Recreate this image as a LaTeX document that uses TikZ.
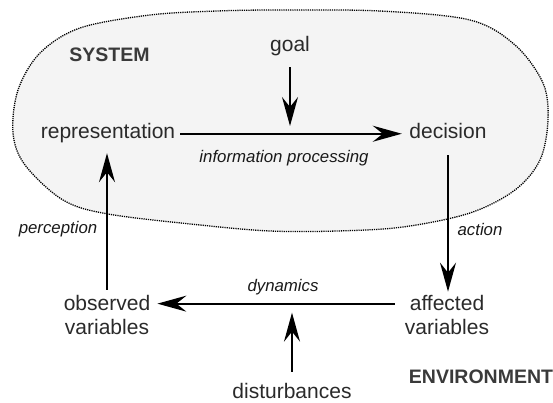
\documentclass[tikz,border=0pt]{standalone}
\usepackage{fontspec}
\setmainfont{Liberation Sans}
\usetikzlibrary{arrows.meta}
\definecolor{textgray}{HTML}{2A2A2A}
\definecolor{titlegray}{HTML}{3A3A3A}
\definecolor{blobfill}{HTML}{F4F4F4}
\tikzset{
  txt/.style={font=\fontsize{21}{24.5}\selectfont, text=textgray, inner sep=0pt, anchor=base, text height=15pt, text depth=4.5pt},
  txttwo/.style={font=\fontsize{21}{24.5}\selectfont, text=textgray, inner sep=0pt, anchor=base},
  lbl/.style={font=\fontsize{16.8}{20}\selectfont\itshape, text=black!90, inner sep=0pt, anchor=base},
  ttl/.style={font=\fontsize{19.5}{24}\selectfont\bfseries, text=titlegray, inner sep=0pt, anchor=base},
  arr/.style={draw=black, line width=1.7pt, -{Stealth[length=29pt, width=16pt, inset=10pt]}},
  blob/.style={draw=black, fill=blobfill, line width=1.3pt, dash pattern=on 1.2pt off 1pt},
}
\newcommand{\twolines}[2]{{\tabcolsep=0pt\begin{tabular}[t]{@{}c@{}}#1\\#2\end{tabular}}}
\begin{document}
\begin{tikzpicture}[x=1pt, y=-1pt]
  \useasboundingbox (0,0) rectangle (553,403);
  % system outline
  \draw[blob] plot[smooth cycle, tension=0.55] coordinates {
    (280,10) (380,11) (470,20) (515,45) (543,83) (548,120) (540,160) (515,190)
    (470,213) (403,227) (337,231) (270,231) (200,225) (108,214) (63,200)
    (25,165) (13,133) (18,90) (40,53) (80,28) (150,15) (217,11)};

  % titles
  \node[ttl] (sys) at (109.5,62) {SYSTEM};
  \node[ttl] (env) at (481,383) {ENVIRONMENT};

  % main nodes
  \node[txt] (goal) at (290,52) {goal};
  \node[txt] (rep) at (108,139) {representation};
  \node[txt] (dec) at (448,139) {decision};
  \node[txttwo] (obs) at (107,310) {\twolines{observed}{variables}};
  \node[txttwo] (aff) at (447,310) {\twolines{affected}{variables}};
  \node[txt] (dist) at (292,398) {disturbances};

  % connectors
  \draw[arr, shorten <=5pt, shorten >=7.5pt] (rep.east) -- (rep.east -| dec.west);
  \draw[arr, shorten <=10.6pt, shorten >=7.75pt] (goal.south) -- (goal.south |- rep.east);
  \draw[arr, shorten <=11.5pt, shorten >=1pt] (dec.south) -- (dec.south |- aff.north);
  \coordinate (dynR) at ([xshift=-10pt, yshift=-11pt]aff.north west);
  \coordinate (dynL) at ([xshift=7pt, yshift=-11pt]obs.north east);
  \draw[arr] (dynR) -- (dynL);
  \draw[arr, shorten <=11pt, shorten >=9pt] (dist.north) -- (dist.north |- dynL);
  \draw[arr, shorten <=3pt, shorten >=9.5pt] (obs.north) -- (obs.north |- rep.south);

  % labels
  \node[lbl] (info) at (284,163) {information processing};
  \node[lbl] (perc) at (58,233) {perception};
  \node[lbl] (act) at (480,235) {action};
  \node[lbl] (dyn) at (283,291) {dynamics};
\end{tikzpicture}
\end{document}
